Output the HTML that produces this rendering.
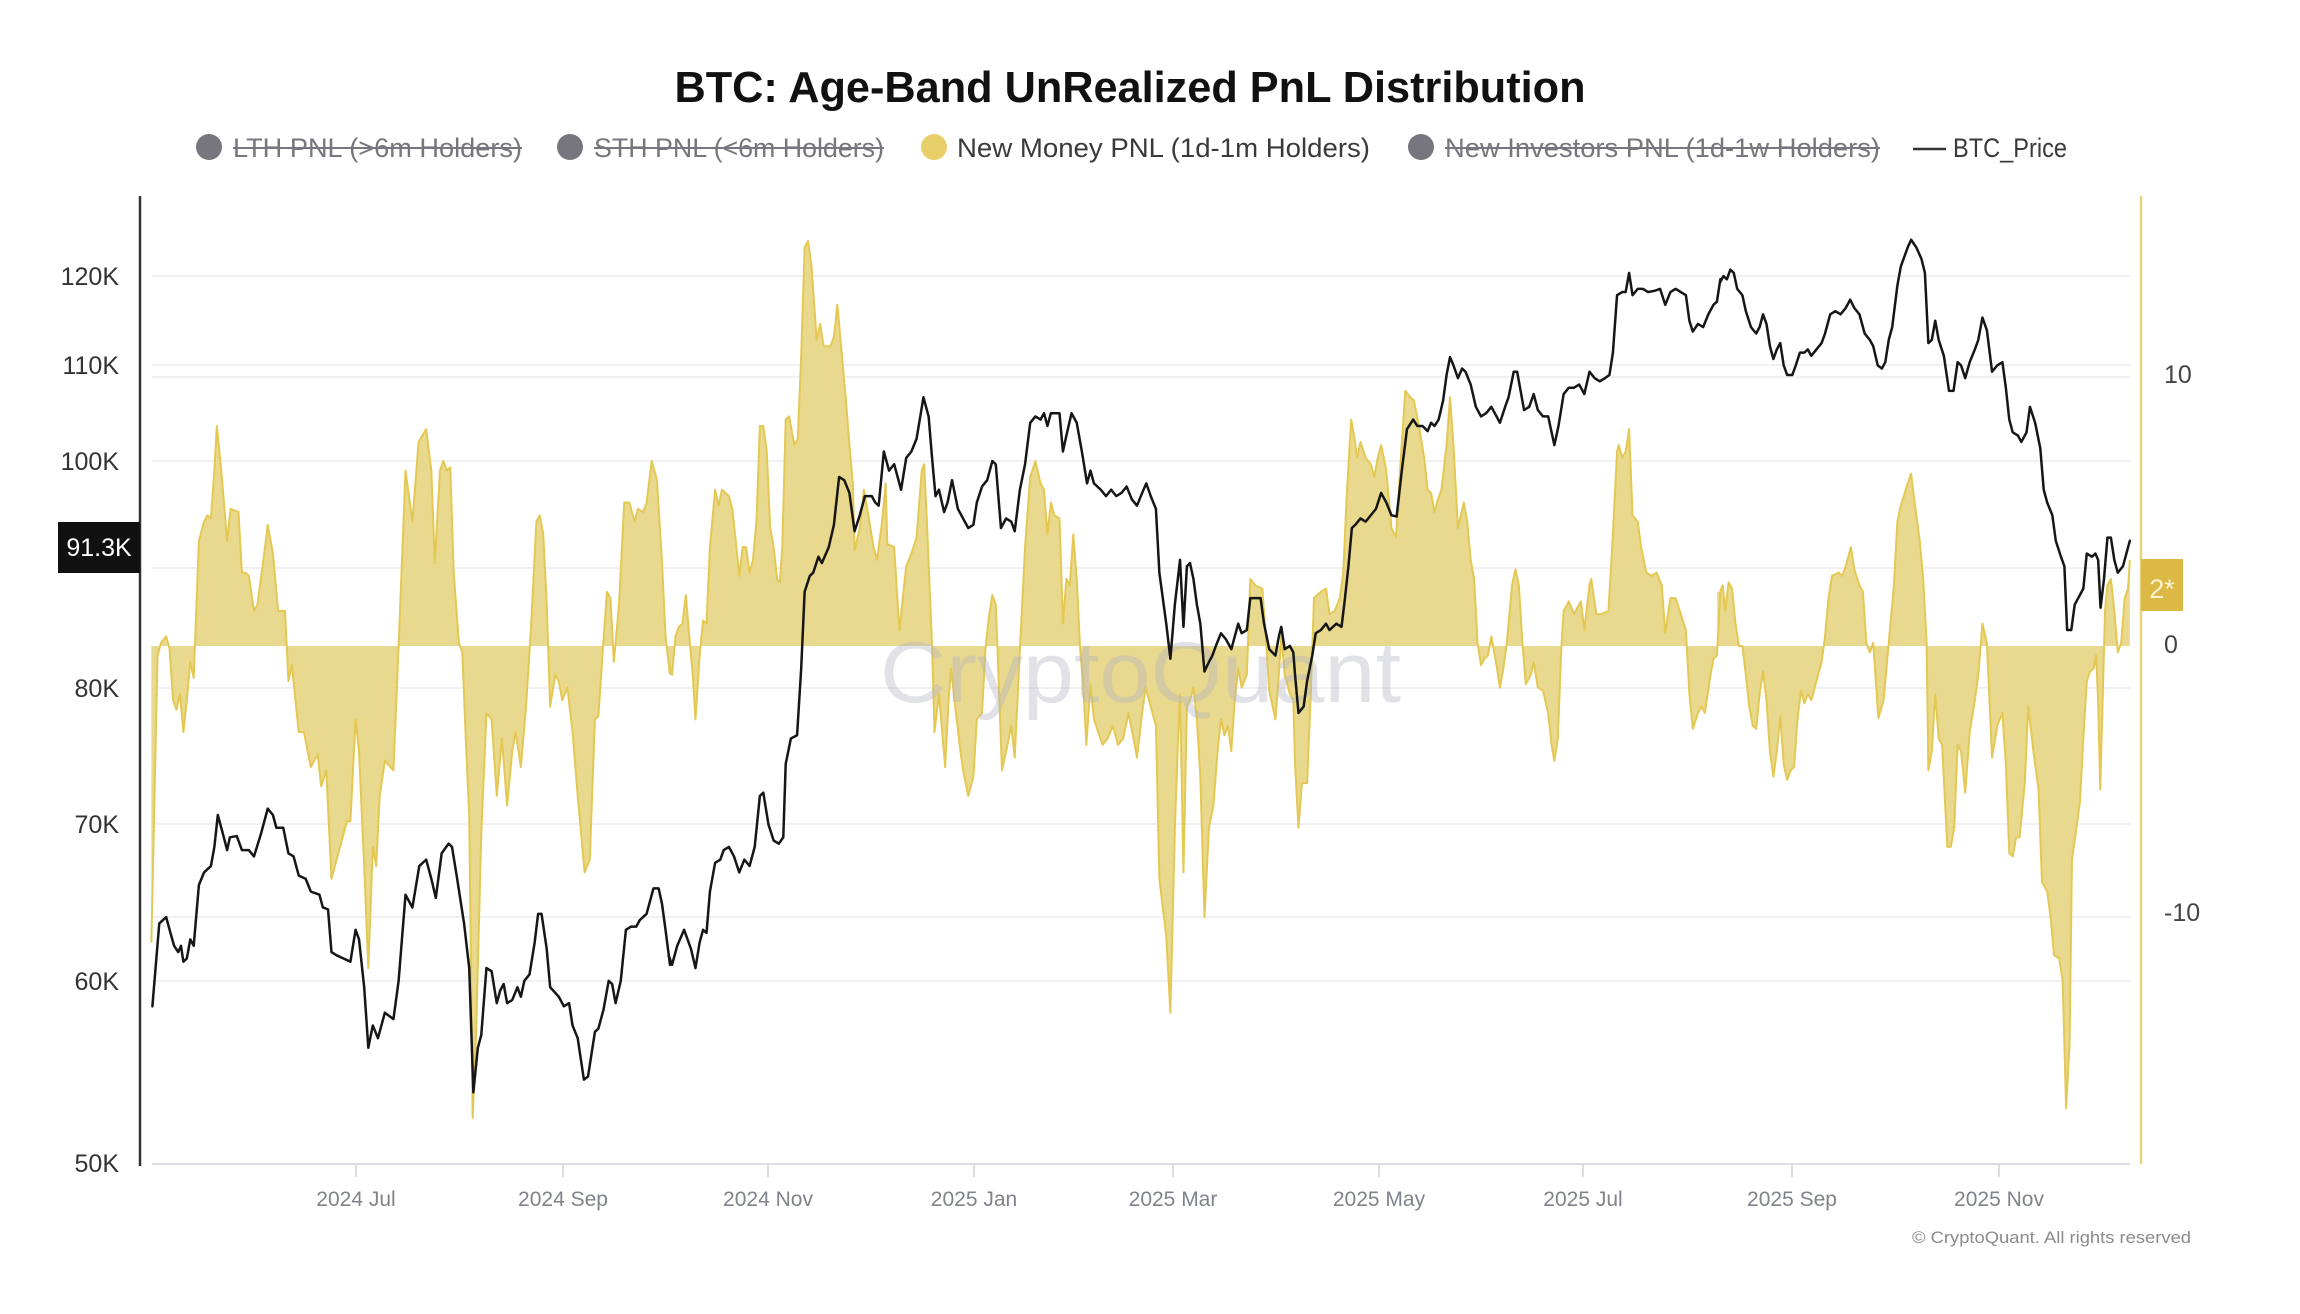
<!DOCTYPE html>
<html><head><meta charset="utf-8">
<style>
html,body{margin:0;padding:0;background:#fff;width:2300px;height:1314px;overflow:hidden}
svg{display:block}
text{font-family:"Liberation Sans",Arial,sans-serif}
</style></head>
<body>
<svg xmlns="http://www.w3.org/2000/svg" width="2300" height="1314" viewBox="0 0 2300 1314">
<rect x="0" y="0" width="2300" height="1314" fill="#ffffff"/>

<!-- Title -->
<text x="1130" y="102" text-anchor="middle" font-size="44" font-weight="bold" fill="#111" textLength="911" lengthAdjust="spacingAndGlyphs">BTC: Age-Band UnRealized PnL Distribution</text>

<!-- Legend -->
<g font-size="27">
  <circle cx="209" cy="147" r="13" fill="#77767f"/>
  <text x="233" y="157" fill="#77767f" textLength="289" lengthAdjust="spacingAndGlyphs">LTH PNL (&gt;6m Holders)</text>
  <line x1="233" y1="148" x2="522" y2="148" stroke="#77767f" stroke-width="2"/>
  <circle cx="570" cy="147" r="13" fill="#77767f"/>
  <text x="594" y="157" fill="#77767f" textLength="290" lengthAdjust="spacingAndGlyphs">STH PNL (&lt;6m Holders)</text>
  <line x1="594" y1="148" x2="884" y2="148" stroke="#77767f" stroke-width="2"/>
  <circle cx="934" cy="147" r="13" fill="#e8cf6a"/>
  <text x="957" y="157" fill="#3a3a3a" textLength="413" lengthAdjust="spacingAndGlyphs">New Money PNL (1d-1m Holders)</text>
  <circle cx="1421" cy="147" r="13" fill="#77767f"/>
  <text x="1445" y="157" fill="#77767f" textLength="435" lengthAdjust="spacingAndGlyphs">New Investors PNL (1d-1w Holders)</text>
  <line x1="1445" y1="148" x2="1880" y2="148" stroke="#77767f" stroke-width="2"/>
  <line x1="1913" y1="149" x2="1946" y2="149" stroke="#333" stroke-width="2.5"/>
  <text x="1953" y="157" fill="#3a3a3a" textLength="114" lengthAdjust="spacingAndGlyphs">BTC_Price</text>
</g>

<!-- Gridlines -->
<g stroke="#f0f0f3" stroke-width="2">
  <line x1="152" y1="276" x2="2130" y2="276"/>
  <line x1="152" y1="365" x2="2130" y2="365"/>
  <line x1="152" y1="377" x2="2130" y2="377"/>
  <line x1="152" y1="461" x2="2130" y2="461"/>
  <line x1="152" y1="568" x2="2130" y2="568"/>
  <line x1="152" y1="688" x2="2130" y2="688"/>
  <line x1="152" y1="824" x2="2130" y2="824"/>
  <line x1="152" y1="917" x2="2130" y2="917"/>
  <line x1="152" y1="981" x2="2130" y2="981"/>
</g>

<!-- Bottom axis + ticks -->
<line x1="152" y1="1164" x2="2130" y2="1164" stroke="#dcdce2" stroke-width="2"/>
<g stroke="#dcdce2" stroke-width="2">
  <line x1="356" y1="1164" x2="356" y2="1177"/>
  <line x1="563" y1="1164" x2="563" y2="1177"/>
  <line x1="768" y1="1164" x2="768" y2="1177"/>
  <line x1="974" y1="1164" x2="974" y2="1177"/>
  <line x1="1173" y1="1164" x2="1173" y2="1177"/>
  <line x1="1379" y1="1164" x2="1379" y2="1177"/>
  <line x1="1583" y1="1164" x2="1583" y2="1177"/>
  <line x1="1792" y1="1164" x2="1792" y2="1177"/>
  <line x1="1999" y1="1164" x2="1999" y2="1177"/>
</g>
<g font-size="21" fill="#80838c" text-anchor="middle">
  <text x="356" y="1206">2024 Jul</text>
  <text x="563" y="1206">2024 Sep</text>
  <text x="768" y="1206">2024 Nov</text>
  <text x="974" y="1206">2025 Jan</text>
  <text x="1173" y="1206">2025 Mar</text>
  <text x="1379" y="1206">2025 May</text>
  <text x="1583" y="1206">2025 Jul</text>
  <text x="1792" y="1206">2025 Sep</text>
  <text x="1999" y="1206">2025 Nov</text>
</g>

<!-- Yellow area (New Money PNL) -->
<g fill="#e9d98e" stroke="none">
  <g transform="translate(130,190) scale(0.344388,0.637755)">
    <polygon points="62,715 62,1180 80,730 90,710 105,700 115,720 125,800 135,815 145,790 155,850 165,800 175,740 185,765 200,550 215,520 225,510 235,515 245,440 252,370 265,440 282,550 292,500 315,505 325,600 335,600 345,605 360,660 370,650 385,590 400,525 415,570 430,660 450,660 460,770 470,745 490,850 505,850 525,905 545,885 555,935 570,910 585,1080 600,1050 630,990 640,990 655,830 665,880 680,1060 692,1220 705,1030 715,1060 725,950 740,895 765,910 780,715 800,440 820,520 838,395 860,375 875,440 885,585 900,440 910,425 920,440 930,435 940,600 955,710 965,725 975,860 985,980 995,1455 1005,1320 1020,1010 1035,820 1050,830 1065,950 1080,860 1095,965 1110,880 1120,850 1135,905 1150,810 1165,680 1180,520 1190,510 1200,540 1210,650 1220,810 1235,760 1245,770 1255,800 1270,780 1285,850 1300,950 1320,1070 1335,1050 1350,830 1360,825 1375,705 1385,630 1395,640 1405,740 1420,650 1435,490 1450,490 1465,520 1475,500 1490,505 1500,490 1515,425 1530,455 1545,585 1555,700 1568,760 1568,715"/>
  </g>
  <g transform="translate(660,190) scale(0.344388,0.637755)">
    <polygon points="25,715 25,740 35,760 45,700 55,685 65,680 75,635 85,700 95,760 103,830 115,730 125,675 135,680 145,560 160,470 170,495 180,470 200,480 210,500 220,550 230,605 240,560 250,560 260,600 270,580 280,520 290,370 300,370 310,410 320,530 330,560 340,610 348,615 355,560 365,360 375,355 390,400 400,390 410,260 420,90 430,80 440,120 455,235 465,210 475,245 495,245 505,230 515,180 525,240 540,330 550,400 560,460 565,565 580,530 592,470 605,510 620,560 630,580 645,520 655,460 660,555 680,560 695,690 705,640 715,590 730,570 745,545 760,440 767,430 775,520 790,715 797,850 810,790 828,905 838,800 845,750 855,800 870,870 880,910 895,950 910,920 920,830 935,820 945,720 955,670 965,635 975,650 980,720 993,910 1005,880 1020,840 1030,890 1045,720 1060,560 1075,450 1090,425 1105,460 1115,470 1125,540 1135,490 1145,510 1160,515 1170,680 1180,610 1190,620 1200,540 1210,610 1220,720 1228,770 1238,870 1250,775 1260,830 1285,870 1300,860 1315,840 1330,870 1345,860 1360,820 1375,860 1385,890 1400,820 1410,780 1420,800 1440,840 1450,1080 1470,1170 1482,1290 1495,1000 1505,850 1510,790 1520,1070 1530,810 1539,800 1539,715"/>
  </g>
  <g transform="translate(1190,190) scale(0.344388,0.637755)">
    <polygon points="-8,715 -8,800 0,800 10,780 20,830 30,920 42,1140 55,1000 68,965 80,880 90,830 100,855 110,840 120,880 130,800 140,750 150,780 165,760 175,610 190,620 210,625 220,700 230,785 248,830 258,760 265,700 275,760 290,790 300,800 305,900 315,1000 325,930 340,930 350,800 360,640 380,630 395,625 405,665 420,660 435,640 445,600 455,480 468,360 478,390 485,420 495,395 510,420 525,430 535,450 545,420 555,400 570,440 585,530 598,545 610,440 625,315 640,325 650,330 665,370 680,420 690,470 700,475 710,505 720,485 730,470 745,400 755,325 765,400 778,530 795,490 805,520 815,580 825,610 835,710 845,745 855,735 865,730 875,700 890,745 900,780 910,750 920,710 935,620 945,595 955,620 965,710 975,775 990,760 998,740 1010,780 1025,785 1040,820 1050,870 1058,895 1068,860 1078,720 1085,660 1100,645 1115,665 1125,655 1135,645 1145,690 1160,620 1165,610 1180,665 1195,665 1215,660 1225,570 1240,410 1245,400 1255,420 1265,410 1275,375 1285,510 1300,520 1310,560 1325,600 1340,605 1355,600 1370,620 1380,695 1395,640 1410,640 1425,665 1440,690 1450,790 1460,845 1475,820 1485,810 1495,820 1510,765 1520,735 1530,730 1540,630 1540,715"/>
  </g>
  <g transform="translate(1720,190) scale(0.344388,0.637755)">
    <polygon points="-8,715 -8,630 0,630 8,620 15,660 25,615 35,625 45,680 55,715 65,715 75,760 85,810 95,840 105,845 115,790 125,755 135,800 145,880 155,920 165,880 175,825 185,900 195,925 205,910 215,905 225,830 235,785 245,805 255,790 265,800 275,780 285,760 295,740 305,700 315,640 325,605 345,600 355,605 365,590 380,560 390,595 405,620 415,630 425,710 435,725 445,710 455,790 460,828 475,800 485,740 495,680 505,620 515,520 525,495 545,460 555,445 565,490 580,550 590,610 600,710 605,910 615,880 625,790 635,860 645,870 660,1030 670,1030 680,1000 690,870 700,880 712,945 725,850 740,800 750,760 762,680 775,710 790,890 805,840 820,820 830,900 840,1040 850,1045 860,1015 870,1015 885,930 895,810 910,880 925,940 935,1085 950,1100 960,1140 970,1200 985,1205 995,1240 1005,1440 1015,1340 1022,1050 1030,1020 1045,960 1055,860 1065,770 1075,755 1085,750 1092,730 1098,800 1104,940 1110,820 1118,660 1125,620 1135,610 1145,660 1155,725 1165,710 1175,640 1185,625 1190,580 1190,715"/>
  </g>
</g>

<!-- Yellow outline -->
<g fill="none" stroke="#e4c853" stroke-width="2" stroke-linejoin="round">
  <g transform="translate(130,190) scale(0.344388,0.637755)">
    <polyline vector-effect="non-scaling-stroke" points="62,1180 80,730 90,710 105,700 115,720 125,800 135,815 145,790 155,850 165,800 175,740 185,765 200,550 215,520 225,510 235,515 245,440 252,370 265,440 282,550 292,500 315,505 325,600 335,600 345,605 360,660 370,650 385,590 400,525 415,570 430,660 450,660 460,770 470,745 490,850 505,850 525,905 545,885 555,935 570,910 585,1080 600,1050 630,990 640,990 655,830 665,880 680,1060 692,1220 705,1030 715,1060 725,950 740,895 765,910 780,715 800,440 820,520 838,395 860,375 875,440 885,585 900,440 910,425 920,440 930,435 940,600 955,710 965,725 975,860 985,980 995,1455 1005,1320 1020,1010 1035,820 1050,830 1065,950 1080,860 1095,965 1110,880 1120,850 1135,905 1150,810 1165,680 1180,520 1190,510 1200,540 1210,650 1220,810 1235,760 1245,770 1255,800 1270,780 1285,850 1300,950 1320,1070 1335,1050 1350,830 1360,825 1375,705 1385,630 1395,640 1405,740 1420,650 1435,490 1450,490 1465,520 1475,500 1490,505 1500,490 1515,425 1530,455 1545,585 1555,700 1568,760"/>
  </g>
  <g transform="translate(660,190) scale(0.344388,0.637755)">
    <polyline vector-effect="non-scaling-stroke" points="25,740 35,760 45,700 55,685 65,680 75,635 85,700 95,760 103,830 115,730 125,675 135,680 145,560 160,470 170,495 180,470 200,480 210,500 220,550 230,605 240,560 250,560 260,600 270,580 280,520 290,370 300,370 310,410 320,530 330,560 340,610 348,615 355,560 365,360 375,355 390,400 400,390 410,260 420,90 430,80 440,120 455,235 465,210 475,245 495,245 505,230 515,180 525,240 540,330 550,400 560,460 565,565 580,530 592,470 605,510 620,560 630,580 645,520 655,460 660,555 680,560 695,690 705,640 715,590 730,570 745,545 760,440 767,430 775,520 790,715 797,850 810,790 828,905 838,800 845,750 855,800 870,870 880,910 895,950 910,920 920,830 935,820 945,720 955,670 965,635 975,650 980,720 993,910 1005,880 1020,840 1030,890 1045,720 1060,560 1075,450 1090,425 1105,460 1115,470 1125,540 1135,490 1145,510 1160,515 1170,680 1180,610 1190,620 1200,540 1210,610 1220,720 1228,770 1238,870 1250,775 1260,830 1285,870 1300,860 1315,840 1330,870 1345,860 1360,820 1375,860 1385,890 1400,820 1410,780 1420,800 1440,840 1450,1080 1470,1170 1482,1290 1495,1000 1505,850 1510,790 1520,1070 1530,810 1539,800"/>
  </g>
  <g transform="translate(1190,190) scale(0.344388,0.637755)">
    <polyline vector-effect="non-scaling-stroke" points="0,800 10,780 20,830 30,920 42,1140 55,1000 68,965 80,880 90,830 100,855 110,840 120,880 130,800 140,750 150,780 165,760 175,610 190,620 210,625 220,700 230,785 248,830 258,760 265,700 275,760 290,790 300,800 305,900 315,1000 325,930 340,930 350,800 360,640 380,630 395,625 405,665 420,660 435,640 445,600 455,480 468,360 478,390 485,420 495,395 510,420 525,430 535,450 545,420 555,400 570,440 585,530 598,545 610,440 625,315 640,325 650,330 665,370 680,420 690,470 700,475 710,505 720,485 730,470 745,400 755,325 765,400 778,530 795,490 805,520 815,580 825,610 835,710 845,745 855,735 865,730 875,700 890,745 900,780 910,750 920,710 935,620 945,595 955,620 965,710 975,775 990,760 998,740 1010,780 1025,785 1040,820 1050,870 1058,895 1068,860 1078,720 1085,660 1100,645 1115,665 1125,655 1135,645 1145,690 1160,620 1165,610 1180,665 1195,665 1215,660 1225,570 1240,410 1245,400 1255,420 1265,410 1275,375 1285,510 1300,520 1310,560 1325,600 1340,605 1355,600 1370,620 1380,695 1395,640 1410,640 1425,665 1440,690 1450,790 1460,845 1475,820 1485,810 1495,820 1510,765 1520,735 1530,730 1540,630"/>
  </g>
  <g transform="translate(1720,190) scale(0.344388,0.637755)">
    <polyline vector-effect="non-scaling-stroke" points="0,630 8,620 15,660 25,615 35,625 45,680 55,715 65,715 75,760 85,810 95,840 105,845 115,790 125,755 135,800 145,880 155,920 165,880 175,825 185,900 195,925 205,910 215,905 225,830 235,785 245,805 255,790 265,800 275,780 285,760 295,740 305,700 315,640 325,605 345,600 355,605 365,590 380,560 390,595 405,620 415,630 425,710 435,725 445,710 455,790 460,828 475,800 485,740 495,680 505,620 515,520 525,495 545,460 555,445 565,490 580,550 590,610 600,710 605,910 615,880 625,790 635,860 645,870 660,1030 670,1030 680,1000 690,870 700,880 712,945 725,850 740,800 750,760 762,680 775,710 790,890 805,840 820,820 830,900 840,1040 850,1045 860,1015 870,1015 885,930 895,810 910,880 925,940 935,1085 950,1100 960,1140 970,1200 985,1205 995,1240 1005,1440 1015,1340 1022,1050 1030,1020 1045,960 1055,860 1065,770 1075,755 1085,750 1092,730 1098,800 1104,940 1110,820 1118,660 1125,620 1135,610 1145,660 1155,725 1165,710 1175,640 1185,625 1190,580"/>
  </g>
</g>

<!-- Watermark -->
<text x="880" y="702" font-size="86" fill="#b0b0c2" fill-opacity="0.38" textLength="521" lengthAdjust="spacingAndGlyphs">CryptoQuant</text>

<!-- BTC Price line -->
<g fill="none" stroke="#161616" stroke-width="2.5" stroke-linejoin="round" stroke-linecap="round">
  <g transform="translate(130,190) scale(0.344388,0.637755)">
    <polyline vector-effect="non-scaling-stroke" points="65,1280 85,1150 105,1140 115,1160 128,1185 140,1195 148,1185 155,1210 165,1205 175,1175 185,1185 200,1090 215,1070 235,1060 245,1030 255,980 270,1010 282,1035 290,1015 310,1013 325,1035 345,1035 360,1045 380,1010 400,970 415,980 425,1000 445,1000 460,1040 475,1045 490,1075 510,1080 525,1100 550,1105 560,1125 575,1128 585,1195 600,1200 620,1205 640,1210 655,1160 665,1175 680,1250 692,1345 705,1310 720,1330 740,1290 765,1300 780,1240 800,1105 820,1125 840,1060 860,1050 875,1080 888,1110 905,1040 925,1025 935,1030 950,1080 970,1150 985,1220 997,1415 1010,1345 1020,1325 1035,1220 1050,1225 1065,1275 1075,1255 1085,1245 1095,1275 1110,1270 1125,1250 1135,1265 1145,1240 1160,1230 1175,1180 1185,1135 1195,1135 1210,1190 1220,1250 1245,1265 1260,1280 1275,1275 1285,1310 1300,1330 1318,1395 1330,1390 1350,1320 1360,1315 1375,1285 1390,1240 1400,1245 1410,1275 1425,1240 1440,1160 1455,1155 1470,1155 1480,1145 1500,1135 1520,1095 1535,1095 1545,1120 1555,1160 1568,1215"/>
  </g>
  <g transform="translate(660,190) scale(0.344388,0.637755)">
    <polyline vector-effect="non-scaling-stroke" points="25,1200 35,1215 50,1185 70,1160 80,1175 90,1190 103,1220 115,1180 125,1160 135,1165 145,1100 160,1055 175,1050 185,1035 200,1030 215,1045 230,1070 245,1050 260,1060 275,1030 290,950 300,945 315,995 330,1020 345,1025 358,1015 365,900 380,860 398,855 410,750 420,630 435,605 445,600 460,575 470,585 490,560 505,525 520,450 535,455 550,475 565,535 580,510 595,480 615,480 625,490 635,495 650,410 665,440 680,430 700,470 715,420 730,410 745,390 765,325 780,355 790,420 800,480 810,470 825,505 835,490 848,455 865,500 880,515 895,530 910,525 920,490 935,465 950,455 965,425 975,430 990,530 1005,515 1020,520 1030,535 1045,470 1060,430 1075,365 1090,355 1105,360 1115,350 1125,370 1135,350 1150,350 1160,350 1170,410 1180,385 1195,350 1210,365 1225,410 1240,460 1250,440 1260,460 1280,470 1295,480 1310,470 1325,480 1340,475 1355,465 1370,485 1385,495 1400,475 1412,460 1425,480 1440,500 1450,600 1470,680 1482,735 1495,650 1510,580 1520,685 1530,590 1539,585"/>
  </g>
  <g transform="translate(1190,190) scale(0.344388,0.637755)">
    <polyline vector-effect="non-scaling-stroke" points="0,585 10,610 20,650 30,680 42,755 55,740 65,730 75,715 90,695 105,705 120,720 130,700 140,680 150,695 165,690 175,640 190,640 205,640 215,680 230,720 248,730 258,700 265,685 275,720 290,715 300,725 305,760 315,820 330,810 340,770 355,730 365,695 380,690 395,680 405,690 415,685 425,680 440,685 450,640 460,590 470,530 480,525 495,515 510,520 525,510 540,500 555,475 570,490 585,510 600,512 615,440 630,375 648,360 660,370 675,370 690,378 700,365 710,370 722,360 735,330 745,290 755,262 765,275 778,295 790,280 800,285 815,305 830,340 845,355 860,350 875,340 890,355 900,365 915,340 925,325 940,285 950,285 960,315 970,345 985,340 998,320 1010,345 1025,355 1040,355 1050,380 1058,400 1070,370 1085,320 1100,310 1115,310 1130,305 1145,320 1160,285 1175,295 1190,300 1205,295 1218,290 1228,255 1240,165 1255,160 1265,160 1275,130 1285,165 1300,155 1315,155 1330,160 1350,158 1365,155 1380,180 1395,160 1410,155 1425,160 1440,165 1450,205 1460,222 1475,210 1490,215 1505,195 1520,180 1530,175 1540,140"/>
  </g>
  <g transform="translate(1720,190) scale(0.344388,0.637755)">
    <polyline vector-effect="non-scaling-stroke" points="0,145 10,135 20,140 30,125 40,130 50,155 65,165 75,190 90,215 105,225 115,215 125,195 135,210 145,245 155,265 165,250 175,240 185,275 195,290 210,290 220,275 232,255 245,255 255,250 265,260 280,250 295,240 305,225 320,195 335,190 350,195 365,185 378,172 390,185 405,195 420,225 435,235 445,245 458,275 470,280 480,270 490,235 500,215 515,150 525,120 545,90 555,78 570,90 585,108 595,130 605,240 615,235 625,205 635,235 650,260 665,315 678,315 690,270 700,275 712,295 725,270 740,250 750,235 762,200 775,220 790,285 805,275 820,270 830,310 840,360 850,380 865,385 875,395 890,380 900,340 915,365 930,405 940,470 950,490 965,510 975,550 990,575 1000,590 1008,690 1020,690 1030,650 1045,635 1055,625 1065,570 1080,575 1090,570 1098,580 1105,655 1115,610 1125,545 1135,545 1145,580 1155,600 1170,590 1180,570 1190,550"/>
  </g>
</g>

<!-- Axes -->
<line x1="140" y1="196" x2="140" y2="1166" stroke="#333" stroke-width="2.5"/>
<line x1="2141" y1="196" x2="2141" y2="1164" stroke="#e8d37a" stroke-width="2.5"/>

<!-- Left axis labels -->
<g font-size="25" fill="#333" text-anchor="end">
  <text x="119" y="285">120K</text>
  <text x="119" y="374">110K</text>
  <text x="119" y="470">100K</text>
  <text x="119" y="697">80K</text>
  <text x="119" y="833">70K</text>
  <text x="119" y="990">60K</text>
  <text x="119" y="1172">50K</text>
</g>
<rect x="58" y="522" width="82" height="51" fill="#111"/>
<text x="99" y="556" font-size="25" fill="#fff" text-anchor="middle">91.3K</text>

<!-- Right axis labels -->
<g font-size="25" fill="#444">
  <text x="2164" y="383">10</text>
  <text x="2164" y="653">0</text>
  <text x="2164" y="921">-10</text>
</g>
<rect x="2141" y="559" width="42" height="52" fill="#dbb944"/>
<text x="2162" y="598" font-size="27" fill="#fbf3d2" text-anchor="middle">2*</text>

<!-- Copyright -->
<text x="1912" y="1243" font-size="17" fill="#8a8a90" textLength="279" lengthAdjust="spacingAndGlyphs">© CryptoQuant. All rights reserved</text>
</svg>
</body></html>
